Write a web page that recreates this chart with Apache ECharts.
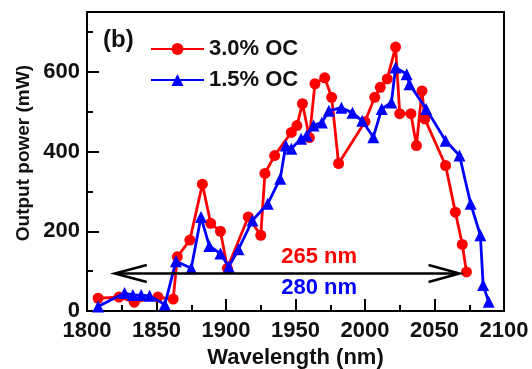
<!DOCTYPE html>
<html><head><meta charset="utf-8">
<script src="https://cdn.jsdelivr.net/npm/echarts@6/dist/echarts.min.js"></script>
<style>html,body{margin:0;padding:0;background:#fff;}#c{width:532px;height:369px;}</style>
</head><body><div id="c"></div>
<script>
// 3.0% OC (red circles)
const wavelengthRed = [1808,1823,1834,1851,1862,1865,1874,1883,1889,1896,1901,1916,1925,1928,1935,1947,1951,1955,1960,1964,1971,1976,1981,2000,2007,2011,2016,2022,2025,2033,2037,2041,2043,2058,2065,2070,2073];
const powerRed      = [32,35,22,35,30,136,178,318,220,200,107,236,190,345,390,448,465,520,435,570,585,536,370,475,536,561,582,662,495,495,415,552,482,365,248,167,98];
// 1.5% OC (blue triangles)
const wavelengthBlue = [1808,1827,1833,1839,1845,1856,1864,1875,1882,1888,1896,1902,1909,1919,1930,1939,1943,1947,1954,1958,1963,1969,1974,1983,1991,1998,2006,2012,2019,2022,2030,2032,2044,2058,2068,2076,2083,2085,2089];
const powerBlue      = [11,45,40,40,38,16,125,107,236,163,144,111,155,227,269,332,415,407,432,440,465,473,502,510,497,477,436,507,523,611,594,569,507,427,390,269,190,65,23];
const seriesNames = ['3.0% OC','1.5% OC'];
const xTickLabels = [1800,1850,1900,1950,2000,2050,2100];
const yTickLabels = [0,200,400,600];
// tuning range annotation
const arrowSpan = [1820, 2068];
const arrowLevel = 94;
const spanTexts = ['265 nm','280 nm'];
const spanTextPos = [[1967,135],[1967,58]];

const FONT = 'Liberation Sans';
const pair = (xs, ys) => xs.map((x, i) => [x, ys[i]]);
const chart = echarts.init(document.getElementById('c'), null, {renderer:'canvas'});
const blackLine = {color:'#000', width:2};
chart.setOption({
  animation:false,
  backgroundColor:'#fff',
  grid:{left:87, top:12, width:417, height:299, containLabel:false, outerBoundsMode:'none',
        show:true, borderColor:'#000', borderWidth:2, backgroundColor:'transparent'},
  legend:{
    orient:'vertical', left:145, top:33, itemWidth:53, itemHeight:15, itemGap:9,
    data:seriesNames,
    textStyle:{fontFamily:FONT, fontWeight:'bold', fontSize:22, color:'#111'}
  },
  graphic:[{type:'text', left:103, top:28, style:{text:'(b)', font:'bold 24px "Liberation Sans"', fill:'#111'}},
           {type:'text', left:14, top:65, rotation:Math.PI/2, style:{text:'Output power (mW)', font:'bold 19px "Liberation Sans"', fill:'#111'}}],
  xAxis:{
    type:'value', min:1800, max:2100, interval:50,
    name:'Wavelength (nm)', nameLocation:'middle', nameGap:31,
    nameTextStyle:{fontFamily:FONT, fontWeight:'bold', fontSize:22, color:'#111'},
    axisLine:{show:true, onZero:false, lineStyle:blackLine},
    axisTick:{show:true, inside:true, length:12, lineStyle:blackLine},
    minorTick:{show:true, splitNumber:2, length:6, lineStyle:blackLine},
    axisLabel:{margin:9, fontFamily:FONT, fontWeight:'bold', fontSize:22, color:'#111',
      formatter:v => xTickLabels.includes(v) ? String(v) : ''},
    splitLine:{show:false}, minorSplitLine:{show:false}
  },
  yAxis:[
    {type:'value', min:0, max:750, interval:100,
     axisLine:{show:true, onZero:false, lineStyle:blackLine},
     axisTick:{show:true, inside:true, length:6, lineStyle:blackLine},
     axisLabel:{show:false}, splitLine:{show:false}},
    {type:'value', position:'left', min:0, max:750, interval:200,
     axisLine:{show:false},
     axisTick:{show:true, inside:true, length:12, lineStyle:blackLine},
     axisLabel:{margin:7, fontFamily:FONT, fontWeight:'bold', fontSize:22, color:'#111',
       formatter:v => yTickLabels.includes(v) ? String(v) : ''},
     splitLine:{show:false}}
  ],
  series:[
    {name:seriesNames[0], type:'line', data:pair(wavelengthRed, powerRed), yAxisIndex:0,
     symbol:'circle', symbolSize:11, color:'#ff0000',
     lineStyle:{color:'#ff0000', width:2.8}, itemStyle:{color:'#ff0000'}, z:3},
    {name:seriesNames[1], type:'line', data:pair(wavelengthBlue, powerBlue), yAxisIndex:0,
     symbol:'triangle', symbolSize:12, color:'#0000ff',
     lineStyle:{color:'#0000ff', width:2.8}, itemStyle:{color:'#0000ff'}, z:4},
    {type:'custom', yAxisIndex:0, z:5, silent:true,
     data:[[arrowSpan[0], arrowSpan[1], arrowLevel]],
     encode:{x:[0,1], y:2},
     renderItem:(params, api) => {
       const a = api.coord([api.value(0), api.value(2)]);
       const b = api.coord([api.value(1), api.value(2)]);
       const st = {stroke:'#000', lineWidth:2.5, fill:null};
       return {type:'group', children:[
         {type:'line', shape:{x1:a[0], y1:a[1], x2:b[0], y2:b[1]}, style:st},
         {type:'polyline', shape:{points:[[a[0]+32,a[1]-8.5],[a[0],a[1]],[a[0]+32,a[1]+8.5]]}, style:st},
         {type:'polyline', shape:{points:[[b[0]-31,b[1]-8.5],[b[0],b[1]],[b[0]-31,b[1]+8.5]]}, style:st}
       ]};
     }},
    {type:'custom', yAxisIndex:0, z:6, silent:true,
     data:spanTextPos,
     renderItem:(params, api) => {
       const p = api.coord([api.value(0), api.value(1)]);
       return {type:'text', x:p[0], y:p[1], style:{text:spanTexts[params.dataIndex],
         font:'bold 22px "Liberation Sans"', fill: params.dataIndex === 0 ? '#ff0000' : '#0000ff',
         align:'center', verticalAlign:'middle'}};
     }}
  ]
});
</script></body></html>
